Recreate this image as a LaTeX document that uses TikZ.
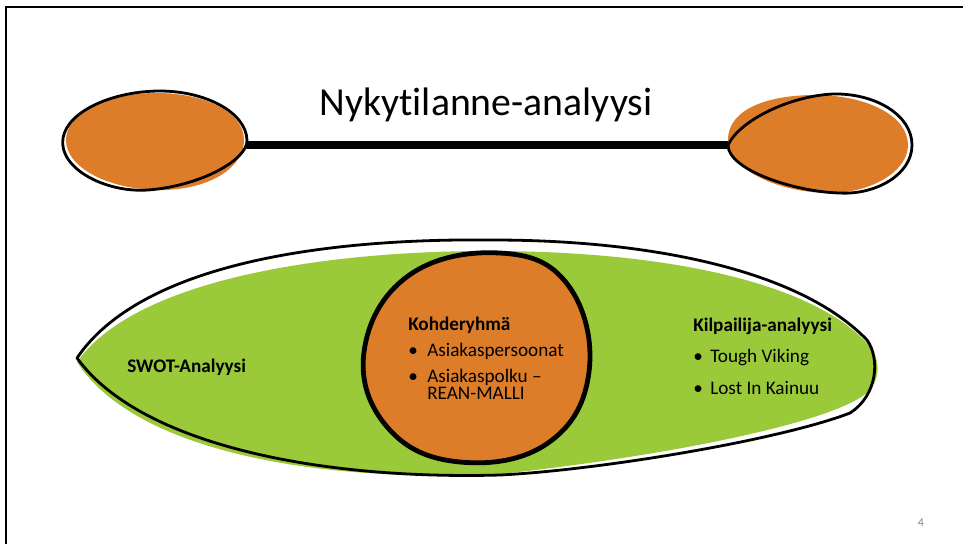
\documentclass[tikz,border=0pt]{standalone}
\usepackage{fontspec}
\setmainfont{Carlito}[Ligatures=NoCommon]
\definecolor{blobor}{RGB}{222,125,41}
\definecolor{leafgreen}{RGB}{154,201,58}
\definecolor{pagegray}{RGB}{137,137,137}
\begin{document}
\begin{tikzpicture}[x=0.75pt,y=-0.75pt,
  outline/.style={draw=black,line width=2.1pt,line join=round},
  heavyline/.style={draw=black,line width=3.6pt,line join=round},
  bar/.style={draw=black,line width=6.6pt},
  frameline/.style={draw=black,line width=1.5pt},
  txt/.style={inner sep=0pt,anchor=base west,font=\fontsize{14.4}{16}\selectfont},
  head/.style={txt,font=\fontsize{14.4}{16}\selectfont\bfseries},
  title/.style={inner sep=0pt,anchor=base,font=\fontsize{29.8}{32}\selectfont},
  pagenum/.style={inner sep=0pt,anchor=base,text=pagegray,font=\fontsize{9}{10}\selectfont}]
\useasboundingbox (0,0) rectangle (963,544);
\fill[white] (0,0) rectangle (963,544);

% slide frame (left and top edges)
\draw[frameline] (6,544) -- (6,7) -- (963,7);

% big green leaf: fill, then a slightly offset sketch outline
\fill[leafgreen] (77,362) .. controls (135,280) and (320,252) .. (480,251)
  .. controls (650,250) and (805,278) .. (866,342)
  .. controls (880,356) and (882,378) .. (868,392)
  .. controls (830,425) and (650,458) .. (500,474)
  .. controls (320,483) and (135,452) .. cycle;
\draw[outline] (77,358) .. controls (140,265) and (320,238) .. (493,240)
  .. controls (650,240) and (800,270) .. (867,340)
  .. controls (880,358) and (878,395) .. (850,413)
  .. controls (780,440) and (600,470) .. (500,475)
  .. controls (320,480) and (140,445) .. cycle;

% target group circle
\filldraw[heavyline,fill=blobor] plot[smooth cycle,tension=0.7] coordinates {
  (364,352) (408,276) (500,253) (568,285) (589,372)
  (548,443) (460,462) (388,428)};

% connecting bar between the two end blobs
\coordinate (lend) at (246,145);
\coordinate (rend) at (729,145);
\draw[bar] (lend) -- (rend);

% left blob
\fill[blobor] (66,140) .. controls (66,112) and (110,93) .. (156,93)
  .. controls (205,93) and (244,112) .. (244,140)
  .. controls (244,165) and (215,188) .. (165,190)
  .. controls (110,191) and (66,168) .. cycle;
\draw[outline] (63,138) .. controls (68,110) and (115,91) .. (160,91)
  .. controls (205,91) and (246,112) .. (247,140)
  .. controls (248,160) and (200,186) .. (148,190)
  .. controls (105,193) and (58,168) .. cycle;

% right blob
\fill[blobor] (728,140) .. controls (728,108) and (770,95) .. (815,95)
  .. controls (865,95) and (908,115) .. (908,145)
  .. controls (908,172) and (870,193) .. (830,193)
  .. controls (780,193) and (728,170) .. cycle;
\draw[outline] (728,145) .. controls (740,120) and (790,96) .. (833,94)
  .. controls (875,93) and (912,115) .. (912,145)
  .. controls (912,175) and (875,195) .. (840,193)
  .. controls (795,192) and (728,170) .. cycle;

% texts
\node[title] (ttl) at (486,115) {Nykytilanne-analyysi};

\node[head] (swot) at (127,372) {SWOT-Analyysi};

\node[head] (kohde) at (408,330) {Kohderyhmä};
\node[txt] (kb1) at (408,356) {•};
\node[txt] (k1) at (427,356) {Asiakaspersoonat};
\node[txt] (kb2) at (408,382) {•};
\node[txt] (k2) at (427,382) {Asiakaspolku –};
\node[txt] (k3) at (427,399.5) {REAN-MALLI};

\node[head] (kilp) at (693,331) {Kilpailija-analyysi};
\node[txt] (pb1) at (693,362) {•};
\node[txt] (p1) at (710,362) {Tough Viking};
\node[txt] (pb2) at (693,394) {•};
\node[txt] (p2) at (710,394) {Lost In Kainuu};

\node[pagenum] (pg) at (921,526) {4};
\end{tikzpicture}
\end{document}
